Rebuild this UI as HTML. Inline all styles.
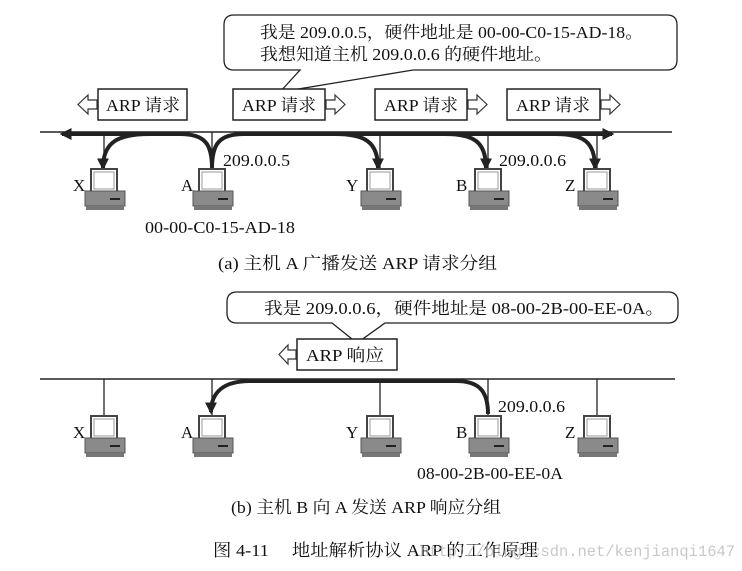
<!DOCTYPE html>
<html><head><meta charset="utf-8"><style>
html,body{margin:0;padding:0;background:#fff;}
svg{display:block;}
text{font-family:"Liberation Serif","Noto Serif CJK SC",serif;fill:#111;}
</style></head><body>
<svg width="742" height="571" viewBox="0 0 742 571" xmlns="http://www.w3.org/2000/svg">
<defs>
<g id="pc">
 <rect x="-13" y="0" width="26" height="23" fill="#fff" stroke="#444" stroke-width="2"/>
 <rect x="-10" y="3" width="20" height="17" fill="#fff" stroke="#999" stroke-width="1"/>
 <rect x="-19" y="22" width="40" height="15" fill="#8a8a8a" stroke="#555" stroke-width="1"/>
 <rect x="6" y="29" width="10" height="2" fill="#222"/>
 <rect x="-18" y="37" width="38" height="4" fill="#777"/>
</g>
<marker id="ah" viewBox="0 0 10 10" refX="8" refY="5" markerWidth="3" markerHeight="3" orient="auto"><path d="M0,0 L10,5 L0,10 z" fill="#222"/></marker>
</defs>

<!-- (a) callout -->
<path d="M234,15 H667 Q677,15 677,25 V60 Q677,70 667,70 H413 L280,92 L300,70 H234 Q224,70 224,60 V25 Q224,15 234,15 Z" fill="#fff" stroke="#222" stroke-width="1.3"/>
<text x="260" y="38" font-size="17" textLength="383" lengthAdjust="spacingAndGlyphs">我是 209.0.0.5，硬件地址是 00-00-C0-15-AD-18。</text>
<text x="260" y="60" font-size="17" textLength="292" lengthAdjust="spacingAndGlyphs">我想知道主机 209.0.0.6 的硬件地址。</text>

<!-- ARP request boxes -->
<g stroke="#222" stroke-width="1.5" fill="#fff">
 <rect x="98" y="89" width="89" height="31"/>
 <rect x="233" y="89" width="92" height="31"/>
 <rect x="375" y="89" width="92" height="31"/>
 <rect x="507" y="89" width="93" height="31"/>
</g>
<g stroke="#333" stroke-width="1.2" fill="#fff">
 <polygon points="97,100 88,100 88,95 78,104.5 88,114 88,109 97,109"/>
 <polygon points="326,100 335,100 335,95 345,104.5 335,114 335,109 326,109"/>
 <polygon points="468,100 477,100 477,95 487,104.5 477,114 477,109 468,109"/>
 <polygon points="601,100 610,100 610,95 620,104.5 610,114 610,109 601,109"/>
</g>
<g font-size="17">
 <text x="106" y="111" textLength="74" lengthAdjust="spacingAndGlyphs">ARP 请求</text>
 <text x="242" y="111" textLength="74" lengthAdjust="spacingAndGlyphs">ARP 请求</text>
 <text x="384" y="111" textLength="74" lengthAdjust="spacingAndGlyphs">ARP 请求</text>
 <text x="516" y="111" textLength="74" lengthAdjust="spacingAndGlyphs">ARP 请求</text>
</g>

<!-- (a) bus -->
<line x1="40" y1="132" x2="672" y2="132" stroke="#222" stroke-width="1.5"/>
<g stroke="#222" stroke-width="1.3">
 <line x1="104" y1="132" x2="104" y2="170"/>
 <line x1="212" y1="132" x2="212" y2="170"/>
 <line x1="380" y1="132" x2="380" y2="170"/>
 <line x1="488" y1="132" x2="488" y2="170"/>
 <line x1="597" y1="132" x2="597" y2="170"/>
</g>
<g fill="none" stroke="#222" stroke-width="4">
 <path d="M212,168 C212,144 205,134 180,134 L62,134" marker-end="url(#ah)"/>
 <path d="M212,168 C212,144 219,134 244,134 L612,134" marker-end="url(#ah)"/>
 <path d="M150,134 C118,134 103,142 103,168" marker-end="url(#ah)"/>
 <path d="M335,134 C365,134 378,142 378,168" marker-end="url(#ah)"/>
 <path d="M445,134 C474,134 486,142 486,168" marker-end="url(#ah)"/>
 <path d="M555,134 C584,134 595,142 595,168" marker-end="url(#ah)"/>
</g>
<use href="#pc" x="104" y="169"/>
<use href="#pc" x="212" y="169"/>
<use href="#pc" x="380" y="169"/>
<use href="#pc" x="488" y="169"/>
<use href="#pc" x="597" y="169"/>
<g font-size="17">
 <text x="73" y="191">X</text>
 <text x="181" y="191">A</text>
 <text x="346" y="191">Y</text>
 <text x="456" y="191">B</text>
 <text x="565" y="191">Z</text>
 <text x="223" y="166" textLength="67" lengthAdjust="spacingAndGlyphs">209.0.0.5</text>
 <text x="499" y="166" textLength="67" lengthAdjust="spacingAndGlyphs">209.0.0.6</text>
 <text x="145" y="233" textLength="150" lengthAdjust="spacingAndGlyphs">00-00-C0-15-AD-18</text>
</g>
<text x="218" y="269" font-size="17" textLength="279" lengthAdjust="spacingAndGlyphs">(a) 主机 A 广播发送 ARP 请求分组</text>

<!-- (b) callout -->
<path d="M237,292 H668 Q678,292 678,302 V313 Q678,323 668,323 H385 L357,343 L332,323 H237 Q227,323 227,313 V302 Q227,292 237,292 Z" fill="#fff" stroke="#222" stroke-width="1.3"/>
<text x="264" y="314" font-size="17" textLength="400" lengthAdjust="spacingAndGlyphs">我是 209.0.0.6，硬件地址是 08-00-2B-00-EE-0A。</text>
<rect x="297" y="339" width="100" height="31" fill="#fff" stroke="#222" stroke-width="1.5"/>
<polygon points="296,350 288,350 288,345 279,354.5 288,364 288,359 296,359" fill="#fff" stroke="#333" stroke-width="1.2"/>
<text x="306" y="361" font-size="17" textLength="78" lengthAdjust="spacingAndGlyphs">ARP 响应</text>

<!-- (b) bus -->
<line x1="40" y1="379" x2="675" y2="379" stroke="#222" stroke-width="1.5"/>
<g stroke="#222" stroke-width="1.3">
 <line x1="104" y1="379" x2="104" y2="416"/>
 <line x1="212" y1="379" x2="212" y2="416"/>
 <line x1="380" y1="379" x2="380" y2="416"/>
 <line x1="488" y1="379" x2="488" y2="416"/>
 <line x1="597" y1="379" x2="597" y2="416"/>
</g>
<path d="M488,414 C488,390 478,381 456,381 L250,381 C224,381 211,392 211,412" fill="none" stroke="#222" stroke-width="4" marker-end="url(#ah)"/>
<use href="#pc" x="104" y="416"/>
<use href="#pc" x="212" y="416"/>
<use href="#pc" x="380" y="416"/>
<use href="#pc" x="488" y="416"/>
<use href="#pc" x="597" y="416"/>
<g font-size="17">
 <text x="73" y="438">X</text>
 <text x="181" y="438">A</text>
 <text x="346" y="438">Y</text>
 <text x="456" y="438">B</text>
 <text x="565" y="438">Z</text>
 <text x="498" y="412" textLength="67" lengthAdjust="spacingAndGlyphs">209.0.0.6</text>
 <text x="417" y="479" textLength="146" lengthAdjust="spacingAndGlyphs">08-00-2B-00-EE-0A</text>
</g>
<text x="231" y="513" font-size="17" textLength="270" lengthAdjust="spacingAndGlyphs">(b) 主机 B 向 A 发送 ARP 响应分组</text>

<text x="213" y="556" font-size="17" textLength="325" lengthAdjust="spacingAndGlyphs">图 4-11　 地址解析协议 ARP 的工作原理</text>
<text x="420" y="556" font-size="16" textLength="315" lengthAdjust="spacingAndGlyphs" style="font-family:'Liberation Mono','DejaVu Sans Mono',monospace;fill:#bbb;opacity:0.8">http://blog.csdn.net/kenjianqi1647</text>
</svg>
</body></html>
